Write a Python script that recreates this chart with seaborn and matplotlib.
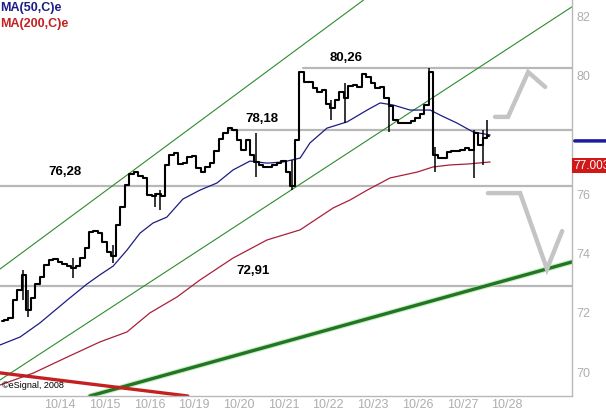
import numpy as np
import pandas as pd
import matplotlib
matplotlib.use("Agg")
import matplotlib.pyplot as plt
import seaborn as sns

# ---------------------------------------------------------------
# Données (prix en $, temps en jours de bourse)
# ---------------------------------------------------------------
dates = ["10/14", "10/15", "10/16", "10/19", "10/20", "10/21",
         "10/22", "10/23", "10/26", "10/27", "10/28"]

# cours de clôture intraday (10 barres par séance, 1re barre à -1.3 jour)
close = [71.73, 71.76, 71.83, 72.43, 72.77, 73.28, 72.10, 72.50, 72.97, 73.21,
         73.61, 73.78, 73.82, 73.72, 73.65, 73.58, 73.51, 73.58, 73.85, 74.19,
         74.73, 74.76, 74.69, 74.39, 74.05, 73.92, 74.96, 75.57, 76.31, 76.68,
         76.75, 76.62, 76.55, 75.98, 75.94, 76.01, 75.94, 76.99, 77.32, 77.39,
         77.02, 77.05, 77.26, 77.29, 76.89, 76.75, 76.92, 77.05, 77.46, 77.86,
         78.07, 78.23, 78.17, 77.83, 77.49, 77.83, 77.32, 77.09, 76.99, 76.92,
         76.92, 76.99, 77.05, 77.12, 76.75, 76.28, 77.83, 80.12, 79.78, 79.78,
         79.58, 79.45, 79.52, 79.04, 78.91, 79.18, 79.45, 79.25, 79.65, 79.68,
         79.62, 80.05, 79.95, 79.75, 79.58, 79.62, 79.25, 78.98, 78.50, 78.40,
         78.40, 78.40, 78.47, 78.57, 78.71, 79.01, 80.12, 77.32, 77.22, 77.22,
         77.42, 77.46, 77.46, 77.49, 77.56, 77.49, 78.07, 77.66, 77.90, 77.96]

# mèches les plus visibles
wick_day = [-0.83, -0.72, 0.29, 1.19, 2.13, 2.24, 4.38, 5.19, 6.06, 6.38,
            7.36, 8.26, 8.39, 9.26, 9.46, 9.55]
wick_low = [72.43, 71.86, 73.18, 73.68, 75.57, 75.47, 76.58, 76.14, 78.50, 78.40,
            78.10, 79.00, 76.75, 76.55, 76.99, 77.93]
wick_high = [73.45, 72.77, 73.85, 74.29, 76.04, 76.14, 78.07, 77.16, 79.18, 79.75,
             79.18, 80.26, 77.59, 78.17, 78.17, 78.50]

# moyennes mobiles
ma50_day = [-1.34, -0.89, -0.45, 0.16, 0.60, 0.89, 1.19, 1.50, 1.79, 2.08,
            2.39, 2.75, 3.13, 3.51, 3.87, 4.25, 4.63, 4.99, 5.37, 5.59,
            5.97, 6.42, 6.87, 7.16, 7.45, 7.83, 8.28, 8.50, 8.88, 9.24, 9.62]
ma50 = [70.92, 71.19, 71.66, 72.43, 72.97, 73.28, 73.58, 74.12, 74.69, 75.03,
        75.23, 75.84, 76.14, 76.38, 76.82, 77.12, 77.05, 77.09, 77.22, 77.73,
        78.23, 78.44, 78.84, 79.08, 79.01, 78.84, 78.84, 78.67, 78.40, 78.10, 78.00]
ma200_day = [-1.34, -0.60, 0.16, 0.89, 1.50, 2.01, 2.62, 3.13, 3.87, 4.63,
             5.37, 6.11, 6.49, 6.87, 7.38, 7.99, 8.34, 8.72, 9.11, 9.62]
ma200 = [69.57, 69.97, 70.51, 71.02, 71.36, 72.00, 72.54, 73.11, 73.85, 74.46,
         74.80, 75.54, 75.81, 76.14, 76.55, 76.75, 76.92, 76.99, 77.02, 77.09]

# niveaux horizontaux (valeur, jour de départ)
niveaux = [80.26, 78.18, 76.28, 72.91]
niveaux_debut = [5.44, 3.76, -1.34, -1.34]
niveaux_txt_day = [6.40, 4.52, 0.11, 4.32]
niveaux_txt_prix = [80.59, 78.54, 76.75, 73.41]

# canaux et droites de tendance
canal_haut_day, canal_haut = [-1.34, 6.79], [73.48, 82.55]
canal_bas_day, canal_bas = [-1.34, 11.45], [69.74, 82.32]
support_day, support = [0.67, 11.45], [69.20, 73.72]
resist_day, resist = [-1.34, 2.86], [69.98, 69.20]

# scénarios dessinés en gris
scen1_day, scen1 = [9.73, 10.02, 10.47, 10.85], [78.61, 78.61, 80.12, 79.62]
scen2_day, scen2 = [9.57, 10.29, 10.89, 11.23], [76.04, 76.04, 73.48, 74.76]

yticks = [70, 72, 74, 76, 80, 82]
ma50_dernier = 77.80
dernier_cours = "77.003"
dernier_prix = 76.96

# ---------------------------------------------------------------
# Figure
# ---------------------------------------------------------------
sns.set_style("white")
plt.rcParams["font.family"] = ["Liberation Sans", "DejaVu Sans"]

GRIS = "#aeaeae"
fig = plt.figure(figsize=(6.06, 4.12), dpi=100)
ax = fig.add_axes([0, 16 / 412, 572 / 606, 396 / 412])

for v, d0 in zip(niveaux, niveaux_debut):
    ax.plot([d0, 11.45], [v, v], color="#b8b8b8", lw=1.6, zorder=1)
for v, d, p in zip(niveaux, niveaux_txt_day, niveaux_txt_prix):
    ax.text(d, p, f"{v:.2f}".replace(".", ","), ha="center", va="center",
            fontsize=9.5, fontweight="bold", color="black")

ax.plot(canal_haut_day, canal_haut, color="#2e8b2e", lw=0.8)
ax.plot(canal_bas_day, canal_bas, color="#2e8b2e", lw=0.8)
ax.plot(support_day, support, color="#aeeaae", lw=4.0, alpha=0.7)
ax.plot(support_day, support, color="#237523", lw=2.4)
ax.plot(resist_day, resist, color="#c42020", lw=2.4)

sns.lineplot(x=ma200_day, y=ma200, color="#a8203a", lw=0.9, ax=ax)
sns.lineplot(x=ma50_day, y=ma50, color="#1c1c86", lw=0.9, ax=ax)

# barres de prix : mèches + tracé en escalier
bars = pd.DataFrame({"jour": np.round(-1.3 + 0.1 * np.arange(len(close)), 2),
                     "cours": close})
ax.vlines(wick_day, wick_low, wick_high, color="black", lw=1.1, zorder=4)
sns.lineplot(data=bars, x="jour", y="cours", color="black", lw=1.5,
             drawstyle="steps-mid", ax=ax, zorder=5)

for dd, pp in [(scen1_day, scen1), (scen2_day, scen2)]:
    ax.plot(dd, pp, color="#c4c4c4", lw=3.2, solid_joinstyle="miter", zorder=3)

ax.set_xlim(-1.34, 11.45)
ax.set_ylim(69.2, 82.55)
ax.set_xticks(range(len(dates)))
ax.set_xticklabels(dates)
ax.set_yticks(yticks)
ax.set_yticklabels([str(t) for t in yticks])
ax.yaxis.tick_right()
ax.tick_params(axis="both", length=0, colors=GRIS, labelsize=9)
ax.tick_params(axis="x", pad=2)
ax.tick_params(axis="y", pad=3)
ax.set_xlabel("")
ax.set_ylabel("")
for s in ["top", "left"]:
    ax.spines[s].set_visible(False)
for s in ["right", "bottom"]:
    ax.spines[s].set_color("#b8b8b8")
    ax.spines[s].set_linewidth(1)

# légende et mentions
fig.text(0.0, 1 - 8 / 412, "MA(50,C)e", color="#1c1c86", fontsize=9,
         fontweight="bold", va="center", ha="left")
fig.text(0.0, 1 - 24 / 412, "MA(200,C)e", color="#c42020", fontsize=9,
         fontweight="bold", va="center", ha="left")
ax.text(-1.3, 69.55, "\u00a9eSignal, 2008", fontsize=6.5, color="black",
        va="center", ha="left")

# étiquettes à droite : MA50 et dernier cours (coupé au bord comme sur l'original)
ax.annotate("", xy=(1.07, ma50_dernier), xytext=(1.0, ma50_dernier),
            xycoords=("axes fraction", "data"),
            arrowprops=dict(arrowstyle="-", color="#1c1c9c", lw=2.5),
            annotation_clip=False)
ax.text(1.003, dernier_prix, dernier_cours, transform=ax.get_yaxis_transform(),
        color="white", fontsize=8.5, va="center", ha="left", clip_on=False,
        bbox=dict(boxstyle="square,pad=0.12", fc="#d01818", ec="none"))

fig.savefig("out.png", dpi=100)
